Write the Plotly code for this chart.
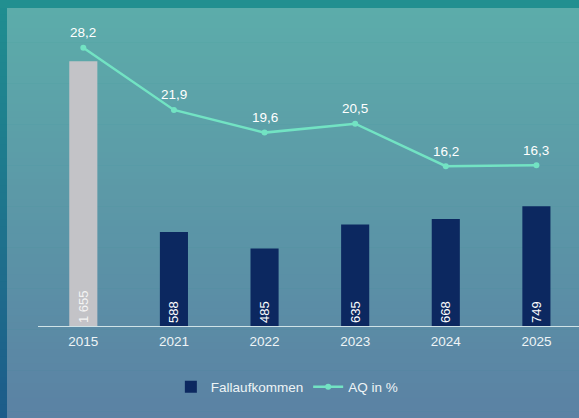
import plotly.graph_objects as go

years = ["2015", "2021", "2022", "2023", "2024", "2025"]
fallaufkommen = [1655, 588, 485, 635, 668, 749]
fall_labels = ["1 655", "588", "485", "635", "668", "749"]
aq = [28.2, 21.9, 19.6, 20.5, 16.2, 16.3]
aq_labels = ["28,2", "21,9", "19,6", "20,5", "16,2", "16,3"]
ref_color = "#c3c3c7"
main_color = "#0c2860"
line_color = "#72e3c3"

W, H = 579, 418
L, R, T, B = 38, 0, 30, 92
PW, PH = W - L - R, H - T - B
FONT = "Liberation Sans, Arial, sans-serif"
FS = 13.5


def xp(px):
    return (px - L) / PW


def yp(py):
    return (H - B - py) / PH


def lerp(c0, c1, t):
    return "rgb(%d,%d,%d)" % tuple(round(a + (b - a) * t) for a, b in zip(c0, c1))


shapes = []
shapes.append(dict(type="rect", xref="paper", yref="paper", x0=xp(0), x1=xp(W), y0=yp(0), y1=yp(9),
                   fillcolor="#218f90", line=dict(width=0), layer="below"))
frame_top, frame_bot = (31, 141, 144), (29, 92, 138)
panel_top, panel_bot = (92, 172, 170), (91, 130, 164)
n = 60
y_start, y_end = 8, H
step = (y_end - y_start) / n
for i in range(n):
    y0 = y_start + i * step
    y1 = y0 + step + 0.6
    t = i / (n - 1)
    shapes.append(dict(type="rect", xref="paper", yref="paper", x0=xp(0), x1=xp(7), y0=yp(y0), y1=yp(y1),
                       fillcolor=lerp(frame_top, frame_bot, t), line=dict(width=0), layer="below"))
    shapes.append(dict(type="rect", xref="paper", yref="paper", x0=xp(7), x1=xp(W), y0=yp(y0), y1=yp(y1),
                       fillcolor=lerp(panel_top, panel_bot, t), line=dict(width=0), layer="below"))

fig = go.Figure()
fig.add_trace(go.Bar(
    x=years[:1], y=fallaufkommen[:1], name="Fallaufkommen", showlegend=False,
    marker=dict(color=ref_color, line=dict(width=0)),
    text=fall_labels[:1], textposition="inside", insidetextanchor="start", textangle=-90,
    textfont=dict(color="#f4f4f4", size=13, family=FONT),
    width=0.31, yaxis="y",
))
fig.add_trace(go.Bar(
    x=years[1:], y=fallaufkommen[1:], name="Fallaufkommen",
    marker=dict(color=main_color, line=dict(width=0)),
    text=fall_labels[1:], textposition="inside", insidetextanchor="start", textangle=-90,
    textfont=dict(color="#ffffff", size=13, family=FONT),
    width=0.31, yaxis="y",
))
fig.add_trace(go.Scatter(
    x=years, y=aq, name="AQ in %", mode="lines+markers",
    line=dict(color=line_color, width=2.5),
    marker=dict(color=line_color, size=6),
    yaxis="y2",
))

# category index positions (numeric-looking category names would be read as indices)
annotations = [
    dict(x=i, y=v, xref="x", yref="y2", text=lab, showarrow=False, yshift=15,
         font=dict(color="#ffffff", size=FS, family=FONT))
    for i, (v, lab) in enumerate(zip(aq, aq_labels))
]

fig.update_layout(
    width=W, height=H,
    margin=dict(l=L, r=R, t=T, b=B),
    paper_bgcolor="#218f90", plot_bgcolor="rgba(0,0,0,0)",
    shapes=shapes, annotations=annotations,
    barmode="overlay",
    font=dict(family=FONT, color="#ffffff", size=FS),
    xaxis=dict(type="category", categoryorder="array", categoryarray=years,
               range=[-0.5, 5.47], showline=True, linecolor="#cfe3e6", linewidth=1,
               showgrid=False, zeroline=False, ticks="outside", ticklen=3, tickcolor="rgba(0,0,0,0)",
               tickfont=dict(size=FS, color="#eef4f6")),
    yaxis=dict(range=[0, 1850], visible=False, showgrid=False, zeroline=False),
    yaxis2=dict(range=[0, 30], visible=False, overlaying="y", showgrid=False, zeroline=False),
    showlegend=True,
    legend=dict(orientation="h", x=0.46, xanchor="center", y=yp(387), yanchor="middle",
                font=dict(size=FS, color="#eef4f6"), bgcolor="rgba(0,0,0,0)", itemwidth=30),
)

fig.write_html("out.html", config={"displayModeBar": False},
               post_script="document.body.style.margin='0';document.body.style.overflow='hidden';")
